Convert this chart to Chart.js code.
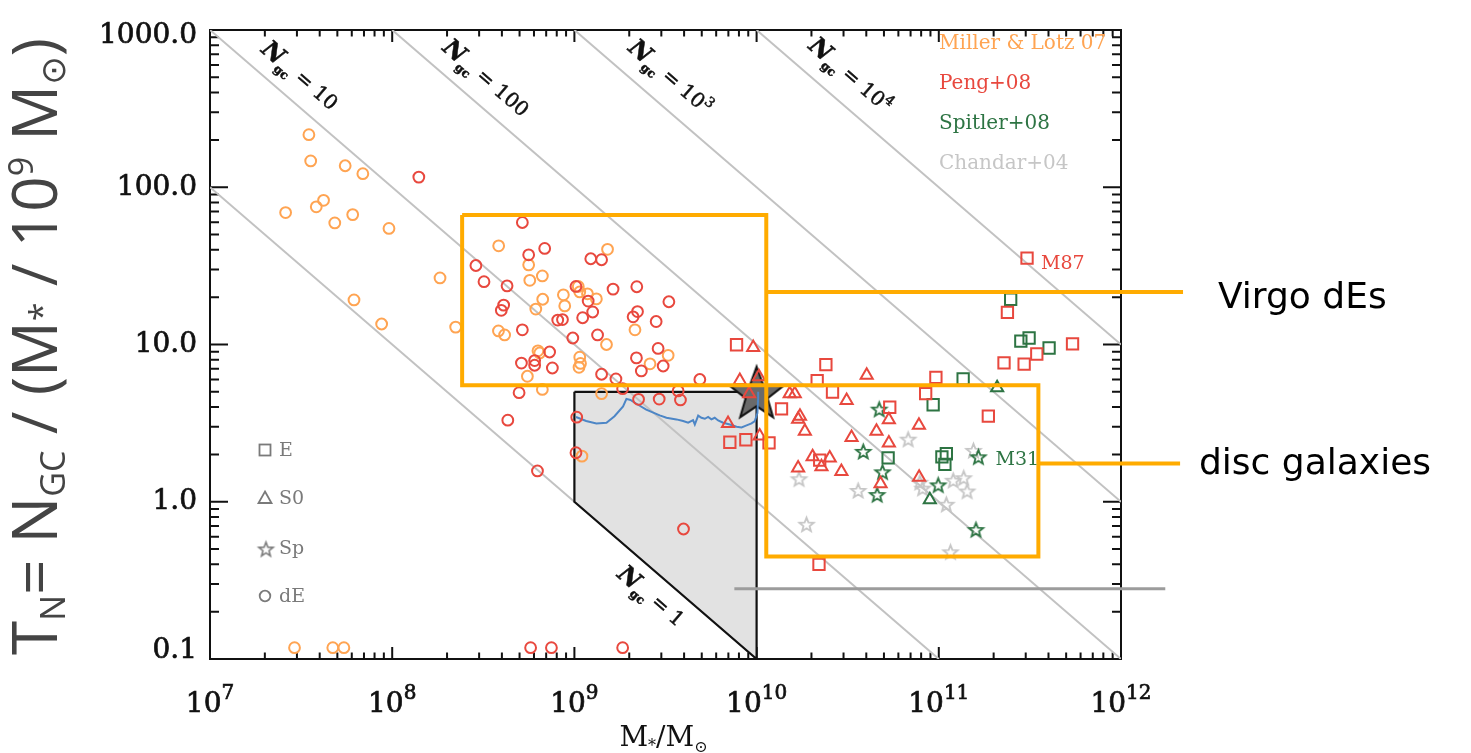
<!DOCTYPE html>
<html>
<head>
<meta charset="utf-8">
<title>Globular cluster specific frequency vs stellar mass</title>
<script src="https://cdn.jsdelivr.net/npm/chart.js@4.4.1/dist/chart.umd.min.js"></script>
<style>
  html, body { margin: 0; padding: 0; background: #fff; }
  canvas { display: block; }
</style>
</head>
<body>
<canvas id="tnChart" width="1471" height="753"></canvas>
<script>
// axis ranges and tick labels
const X_MIN = 1e7, X_MAX = 1e12;
const Y_MIN = 0.1, Y_MAX = 1000;
const X_TICK_VALUES = [1e7, 1e8, 1e9, 1e10, 1e11, 1e12];
const X_TICK_EXPONENTS = ['7', '8', '9', '10', '11', '12'];
const Y_TICK_VALUES = [0.1, 1, 10, 100, 1000];
const Y_TICK_LABELS = ['0.1', '1.0', '10.0', '100.0', '1000.0'];

// Miller & Lotz 07 dwarf ellipticals
const MILLER_DE_MASS = [3.49e7, 3.57e7, 5.52e7, 6.9e7, 2.6e7, 3.83e7, 4.2e7, 4.84e7, 6.07e7, 9.6e7, 1.83e8, 6.17e7, 8.75e7, 2.23e8,
  3.84e8, 1.52e9, 5.61e8, 6.67e8, 5.69e8, 8.7e8, 1.05e9, 1.07e9, 1.18e9, 1.32e9, 6.7e8, 8.85e8, 6.14e8, 3.83e8, 4.14e8, 2.15e9,
  1.5e9, 6.31e8, 6.45e8, 1.07e9, 1.08e9, 1.06e9, 3.27e9, 2.6e9, 5.52e8, 6.67e8, 1.41e9, 1.1e9, 2.91e7, 4.72e7, 5.43e7];
const MILLER_DE_TN = [216, 147, 137, 122, 69, 75.1, 82.6, 59.3, 67, 54.7, 26.5, 19.2, 13.5, 12.9,
  42.4, 40.3, 32.1, 27.3, 25.6, 20.7, 23.4, 21.6, 21.0, 19.5, 19.4, 17.6, 16.8, 12.2, 11.5, 12.4,
  10.0, 9.12, 8.83, 8.30, 7.58, 7.16, 8.54, 7.54, 6.28, 5.18, 4.87, 1.95, 0.118, 0.118, 0.118];

// Peng+08 Virgo galaxies
const PENG_DE_MASS = [1.40e8, 5.18e8, 5.61e8, 6.87e8, 2.88e8, 3.19e8, 4.27e8, 1.23e9, 1.41e9, 4.09e8, 3.97e8, 1.02e9, 1.19e9,
  1.63e9, 2.2e9, 3.3e9, 1.26e9, 1.11e9, 8.6e8, 8.1e8, 2.22e9, 2.1e9, 2.81e9, 5.18e8, 9.8e8, 1.34e9, 7.31e8, 5.12e8, 6.05e8,
  6.05e8, 7.57e8, 2.88e9, 2.19e9, 3.07e9, 2.33e9, 1.41e9, 1.69e9, 4.88e9, 4.97e8, 1.84e9, 2.25e9, 2.92e9, 3.82e9, 3.71e9,
  4.31e8, 1.03e9, 1.02e9, 6.27e8, 3.97e9, 5.75e8, 7.48e8, 1.84e9];
const PENG_DE_TN = [116, 59.7, 37.2, 40.8, 31.8, 25.1, 23.6, 35.1, 34.6, 17.8, 16.5, 23.4, 18.9,
  22.5, 23.3, 18.7, 16.1, 14.8, 14.4, 14.3, 16.2, 15.0, 14.0, 12.4, 11.0, 11.5, 8.96, 7.62, 7.38,
  7.9, 7.09, 9.44, 8.22, 7.30, 6.79, 6.47, 6.04, 5.99, 4.94, 5.24, 4.48, 4.50, 4.44, 5.07,
  3.30, 3.45, 2.05, 1.57, 0.671, 0.118, 0.118, 0.118];
const PENG_E_MASS = [7.76e9, 7.13e9, 8.73e9, 1.17e10, 2.40e10, 2.15e10, 2.61e10, 1.37e10, 9.64e10, 8.47e10, 5.38e10,
  1.87e11, 2.28e11, 2.94e11, 3.45e11, 2.20e10, 2.22e10, 3.05e11, 2.38e11, 5.42e11];
const PENG_E_TN = [9.96, 2.39, 2.48, 2.37, 7.45, 5.90, 4.99, 3.90, 6.18, 4.87, 3.99,
  3.50, 7.65, 7.5, 8.7, 0.40, 1.84, 35.4, 16.0, 10.1];
const PENG_S0_MASS = [9.58e9, 4.02e10, 1.52e10, 1.62e10, 3.12e10, 1.73e10, 1.69e10, 1.84e10, 3.32e10, 4.55e10, 5.32e10,
  7.78e10, 5.32e10, 1.04e10, 1.69e10, 2.03e10, 2.52e10, 2.27e10, 2.92e10, 4.79e10, 7.8e10, 8.09e9, 9.1e9, 1.03e10, 6.97e9];
const PENG_S0_TN = [9.57, 6.37, 4.87, 4.87, 4.40, 3.50, 3.35, 2.81, 2.56, 2.81, 3.32,
  3.06, 2.36, 2.62, 1.64, 1.93, 1.90, 1.67, 1.56, 1.30, 1.43, 5.90, 4.87, 6.24, 3.15];

// Spitler+08
const SPITLER_E_MASS = [1.36e11, 9.31e10, 5.27e10, 1.04e11, 1.10e11, 1.08e11, 2.82e11, 3.13e11, 4.03e11, 2.48e11];
const SPITLER_E_TN = [6.04, 4.14, 1.90, 1.93, 2.02, 1.73, 10.5, 11.0, 9.5, 19.4];
const SPITLER_S0_MASS = [2.09e11, 8.93e10];
const SPITLER_S0_TN = [5.31, 1.03];
const SPITLER_SP_MASS = [4.71e10, 3.85e10, 4.91e10, 4.59e10, 9.93e10, 1.6e11, 1.65e11];
const SPITLER_SP_TN = [3.88, 2.09, 1.55, 1.11, 1.28, 0.665, 1.93];

// Chandar+04 spirals
const CHANDAR_SP_MASS = [6.79e10, 1.71e10, 3.61e10, 1.88e10, 7.87e10, 8.15e10, 1.2e11, 1.37e11, 1.43e11, 1.10e11, 1.55e11, 1.16e11];
const CHANDAR_SP_TN = [2.50, 1.40, 1.18, 0.719, 1.33, 1.22, 1.37, 1.42, 1.17, 0.964, 2.12, 0.48];

// Milky Way and the model track
const MW_MASS = [1e10];
const MW_TN = [5];
const TRACK_MASS = [1.02e9, 1.16e9, 1.32e9, 1.50e9, 1.66e9, 1.85e9, 1.93e9, 2.03e9, 2.19e9, 2.48e9, 2.94e9, 3.20e9,
  3.63e9, 3.95e9, 4.21e9, 4.48e9, 4.58e9, 4.78e9, 4.98e9, 5.20e9, 5.42e9, 5.65e9, 5.89e9, 6.15e9, 6.55e9, 7.13e9,
  7.76e9, 8.27e9, 8.81e9, 9.38e9, 9.78e9, 1.01e10, 1.02e10, 1.02e10];
const TRACK_TN = [3.46, 3.26, 3.15, 3.18, 3.50, 4.04, 4.51, 4.44, 4.20, 3.85, 3.54, 3.42,
  3.34, 3.26, 3.18, 3.30, 3.10, 3.53, 3.42, 3.37, 3.46, 3.34, 3.42, 3.29, 3.18, 3.10,
  3.00, 2.97, 3.06, 3.15, 3.26, 3.67, 4.54, 5.0];

// constant N_gc lines (end points)
const NGC_LINES = [
  { n: '1', mass: [1e7, 1e9], tn: [100, 1] },
  { n: '10', mass: [1e7, 1e11], tn: [1000, 0.1] },
  { n: '100', mass: [1e8, 1e12], tn: [1000, 0.1] },
  { n: '1000', mass: [1e9, 1e12], tn: [1000, 1] },
  { n: '10000', mass: [1e10, 1e12], tn: [1000, 10] }
];
// excluded region
const REGION_TOP_MASS = [1e9, 1e10];
const REGION_TOP_TN = [5, 5];
const REGION_LOW_MASS = [1e9, 1e10];
const REGION_LOW_TN = [1, 0.1];
const REGION_EDGE_MASS = [1e9, 1e10, 1e10, 1e9, 1e9];
const REGION_EDGE_TN = [5, 5, 0.1, 1, 5];

// highlight boxes and leaders
const VIRGO_BOX_MASS = [2.42e8, 1.13e10, 1.13e10, 2.42e8, 2.42e8];
const VIRGO_BOX_TN = [66.6, 66.6, 5.5, 5.5, 66.6];
const VIRGO_LEAD_MASS = [1.13e10, 2.19e12];
const VIRGO_LEAD_TN = [21.6, 21.6];
const DISC_BOX_MASS = [1.13e10, 3.52e11, 3.52e11, 1.13e10, 1.13e10];
const DISC_BOX_TN = [5.5, 5.5, 0.449, 0.449, 5.5];
const DISC_LEAD_MASS = [3.52e11, 2.11e12];
const DISC_LEAD_TN = [1.75, 1.75];
const GREY_LEAD_MASS = [7.55e9, 1.75e12];
const GREY_LEAD_TN = [0.28, 0.28];

// labels on the N_gc lines: anchor mass, N value, shown text
const NGC_LABEL_MASS = [3.08e7, 3.24e8, 3.33e9, 3.24e10, 2.61e9];
const NGC_LABEL_N = [10, 100, 1000, 10000, 1];
const NGC_LABEL_TEXT = ['10', '100', '10', '10', '1'];
const NGC_LABEL_SUP = ['', '', '3', '4', ''];

const SOURCES = ['Miller & Lotz 07', 'Peng+08', 'Spitler+08', 'Chandar+04'];
const MORPH = ['E', 'S0', 'Sp', 'dE'];

const ORANGE = '#ffa452';
const RED = '#e8483e';
const GREEN = '#2d7443';
const LIGHT = '#c6c6c6';
const BOX = '#ffab00';
const SERIF = '"DejaVu Serif", "Liberation Serif", serif';

const pts = (xs, ys) => xs.map((x, i) => ({ x: x, y: ys[i] }));

function starImage(outer, inner, fill, stroke, lw) {
  const size = Math.ceil(2 * outer + 2 * lw + 2);
  const c = document.createElement('canvas');
  c.width = size; c.height = size;
  const g = c.getContext('2d');
  g.translate(size / 2, size / 2 + outer * 0.1);
  g.beginPath();
  for (let i = 0; i < 10; i++) {
    const r = i % 2 === 0 ? outer : inner;
    const a = -Math.PI / 2 + i * Math.PI / 5;
    g.lineTo(r * Math.cos(a), r * Math.sin(a));
  }
  g.closePath();
  if (fill) { g.fillStyle = fill; g.fill(); }
  g.lineWidth = lw;
  g.strokeStyle = stroke;
  g.lineJoin = 'miter';
  g.stroke();
  return c;
}

function markers(xs, ys, style, color, radius, order) {
  return {
    data: pts(xs, ys), showLine: false, pointStyle: style, pointRadius: radius,
    pointBorderColor: color, pointBackgroundColor: 'rgba(0,0,0,0)', pointBorderWidth: 2, order: order
  };
}

function line(xs, ys, color, width, order, extra) {
  return Object.assign({
    data: pts(xs, ys), showLine: true, borderColor: color, borderWidth: width,
    pointRadius: 0, tension: 0, fill: false, order: order
  }, extra || {});
}

const datasets = [];
// shaded region: fill from top edge down to the N_gc = 1 edge
datasets.push(line(REGION_TOP_MASS, REGION_TOP_TN, 'rgba(0,0,0,0)', 0, 100, { fill: '+1', backgroundColor: '#e2e2e2' }));
datasets.push(line(REGION_LOW_MASS, REGION_LOW_TN, 'rgba(0,0,0,0)', 0, 99));
NGC_LINES.forEach(l => datasets.push(line(l.mass, l.tn, '#c2c2c2', 2, 90)));
datasets.push(line(REGION_EDGE_MASS, REGION_EDGE_TN, '#111', 2.2, 80));
datasets.push(markers(MW_MASS, MW_TN, starImage(28, 11.5, '#6a6a6a', '#111', 2), '#111', 28, 70));
datasets.push(line(TRACK_MASS, TRACK_TN, '#4d86c6', 2, 60));
datasets.push(markers(CHANDAR_SP_MASS, CHANDAR_SP_TN, starImage(7.5, 3.2, null, LIGHT, 1.8), LIGHT, 7, 50));
datasets.push(markers(SPITLER_SP_MASS, SPITLER_SP_TN, starImage(7.5, 3.2, null, GREEN, 1.8), GREEN, 7, 45));
datasets.push(markers(SPITLER_E_MASS, SPITLER_E_TN, 'rect', GREEN, 8, 44));
datasets.push(markers(SPITLER_S0_MASS, SPITLER_S0_TN, 'triangle', GREEN, 7, 43));
datasets.push(markers(PENG_E_MASS, PENG_E_TN, 'rect', RED, 8, 40));
datasets.push(markers(PENG_S0_MASS, PENG_S0_TN, 'triangle', RED, 7, 39));
datasets.push(markers(MILLER_DE_MASS, MILLER_DE_TN, 'circle', ORANGE, 5.4, 30));
datasets.push(markers(PENG_DE_MASS, PENG_DE_TN, 'circle', RED, 5.4, 29));
datasets.push(line(VIRGO_BOX_MASS, VIRGO_BOX_TN, BOX, 4, 2, { clip: false, borderJoinStyle: 'miter' }));
datasets.push(line(DISC_BOX_MASS, DISC_BOX_TN, BOX, 4, 2, { clip: false, borderJoinStyle: 'miter' }));
datasets.push(line(VIRGO_LEAD_MASS, VIRGO_LEAD_TN, BOX, 4, 1, { clip: false }));
datasets.push(line(DISC_LEAD_MASS, DISC_LEAD_TN, BOX, 4, 1, { clip: false }));
datasets.push(line(GREY_LEAD_MASS, GREY_LEAD_TN, '#9c9c9c', 3, 1, { clip: false }));

// box with inward minor/major ticks on all four sides
const framePlugin = {
  id: 'frame',
  beforeDatasetsDraw(chart) {
    const { ctx, chartArea: a, scales: { x, y } } = chart;
    ctx.save();
    ctx.strokeStyle = '#111';
    ctx.lineWidth = 2;
    ctx.beginPath();
    for (let e = 7; e < 12; e++) {
      for (let m = 1; m < 10; m++) {
        const px = x.getPixelForValue(m * Math.pow(10, e));
        const len = m === 1 ? 12 : 6.5;
        ctx.moveTo(px, a.bottom); ctx.lineTo(px, a.bottom - len);
        ctx.moveTo(px, a.top); ctx.lineTo(px, a.top + len);
      }
    }
    for (let e = -1; e < 3; e++) {
      for (let m = 1; m < 10; m++) {
        const py = y.getPixelForValue(m * Math.pow(10, e));
        const len = m === 1 ? 18 : 9;
        ctx.moveTo(a.left, py); ctx.lineTo(a.left + len, py);
        ctx.moveTo(a.right, py); ctx.lineTo(a.right - len, py);
      }
    }
    ctx.stroke();
    ctx.strokeRect(a.left, a.top, a.right - a.left, a.bottom - a.top);
    ctx.restore();
  }
};

// draws a run of [text, font, dy] pieces starting at the current origin
function runs(ctx, pieces, align, heavy) {
  let total = 0;
  pieces.forEach(p => { ctx.font = p[1]; total += ctx.measureText(p[0]).width; });
  let cx = align === 'center' ? -total / 2 : 0;
  ctx.textAlign = 'left';
  pieces.forEach(p => {
    ctx.font = p[1];
    ctx.fillText(p[0], cx, p[2] || 0);
    if (heavy) ctx.strokeText(p[0], cx, p[2] || 0);
    cx += ctx.measureText(p[0]).width;
  });
  return total;
}

const textPlugin = {
  id: 'texts',
  afterDraw(chart) {
    const { ctx, chartArea: a, scales: { x, y } } = chart;
    ctx.save();
    ctx.fillStyle = '#111';
    ctx.strokeStyle = '#111';
    ctx.lineWidth = 0.7;

    // y tick labels
    ctx.font = '28px ' + SERIF;
    ctx.textAlign = 'right';
    ctx.textBaseline = 'middle';
    Y_TICK_VALUES.forEach((v, i) => {
      let py = y.getPixelForValue(v);
      if (i === 0) py -= 8;
      if (i === Y_TICK_VALUES.length - 1) py += 6;
      ctx.fillText(Y_TICK_LABELS[i], a.left - 13, py);
      ctx.strokeText(Y_TICK_LABELS[i], a.left - 13, py);
    });

    // x tick labels 10^n
    ctx.textBaseline = 'alphabetic';
    X_TICK_VALUES.forEach((v, i) => {
      ctx.save();
      ctx.translate(x.getPixelForValue(v), 712);
      runs(ctx, [['10', '28px ' + SERIF, 0], [X_TICK_EXPONENTS[i], '20px ' + SERIF, -13]], 'center', true);
      ctx.restore();
    });

    // x axis title
    ctx.save();
    ctx.translate((a.left + a.right) / 2 - 2, 746);
    runs(ctx, [['M', '28px ' + SERIF, 0], ['*', '16px ' + SERIF, 5], ['/M', '28px ' + SERIF, 0], ['\u2299', '16px ' + SERIF, 6]], 'center');
    ctx.restore();

    // y axis title, fitted to the height of the frame
    const base = 54;
    const f = s => s + 'px "Open Sans", "DejaVu Sans", sans-serif';
    const title = s => [
      ['T', f(s), 0], ['N', f(s * 0.55), s * 0.13], ['= N', f(s), 0], ['GC', f(s * 0.55), s * 0.13],
      [' / (M', f(s), 0], ['*', f(s * 0.55), -s * 0.05], [' / 10', f(s), 0], ['9', f(s * 0.55), -s * 0.38],
      [' M', f(s), 0], ['\u2299', f(s * 0.55), s * 0.13], [')', f(s), 0]
    ];
    ctx.save();
    ctx.fillStyle = '#444';
    ctx.translate(57, 655);
    ctx.rotate(-Math.PI / 2);
    let w = 0;
    title(base).forEach(p => { ctx.font = p[1]; w += ctx.measureText(p[0]).width; });
    const s = base * Math.min(1.15, 637 / w);
    runs(ctx, title(s), 'left');
    ctx.restore();

    // labels along the constant N_gc lines
    const ang = Math.atan2(y.getPixelForValue(0.1) - y.getPixelForValue(1), x.getPixelForValue(1e10) - x.getPixelForValue(1e9));
    const lifts = [30, 31, 34, 34, -30];
    NGC_LABEL_MASS.forEach((m, i) => {
      const px = x.getPixelForValue(m);
      const py = y.getPixelForValue(NGC_LABEL_N[i] * 1e9 / m) - lifts[i];
      ctx.save();
      ctx.translate(px, py);
      ctx.rotate(ang);
      ctx.textBaseline = 'middle';
      ctx.fillStyle = '#111';
      ctx.lineWidth = 0.5;
      const pieces = [['N', 'italic bold 24px ' + SERIF, 0], ['gc', 'bold 12px ' + SERIF, 9],
        [' = ' + NGC_LABEL_TEXT[i], '20px ' + SERIF, 0]];
      if (NGC_LABEL_SUP[i]) pieces.push([NGC_LABEL_SUP[i], '14px ' + SERIF, -7]);
      runs(ctx, pieces, 'center', true);
      ctx.restore();
    });

    // source legend
    ctx.textAlign = 'left';
    ctx.textBaseline = 'middle';
    ctx.font = '20px ' + SERIF;
    const srcColors = [ORANGE, RED, GREEN, LIGHT];
    const srcY = [44, 84, 123.5, 164];
    SOURCES.forEach((t, i) => { ctx.fillStyle = srcColors[i]; ctx.fillText(t, 939, srcY[i]); });

    // morphology legend
    const gx = 265, gys = [450, 498, 548, 596];
    ctx.strokeStyle = '#7a7a7a';
    ctx.fillStyle = '#7a7a7a';
    ctx.lineWidth = 1.8;
    ctx.strokeRect(gx - 5.5, gys[0] - 5.5, 11, 11);
    ctx.beginPath();
    ctx.moveTo(gx, gys[1] - 6.5); ctx.lineTo(gx + 6.5, gys[1] + 5); ctx.lineTo(gx - 6.5, gys[1] + 5); ctx.closePath();
    ctx.stroke();
    ctx.drawImage(starImage(7.5, 3.2, null, '#7a7a7a', 1.6), gx - 9.5, gys[2] - 9.5);
    ctx.beginPath(); ctx.arc(gx, gys[3], 5.3, 0, Math.PI * 2); ctx.stroke();
    ctx.font = '19px ' + SERIF;
    MORPH.forEach((t, i) => ctx.fillText(t, 279, gys[i] + 1));

    // named galaxies
    ctx.font = '19px ' + SERIF;
    ctx.fillStyle = RED;
    ctx.fillText('M87', x.getPixelForValue(3.05e11) + 14, y.getPixelForValue(35.4) + 6);
    ctx.fillStyle = GREEN;
    ctx.fillText('M31', x.getPixelForValue(1.65e11) + 17, y.getPixelForValue(1.93) + 3);

    // box captions
    ctx.fillStyle = '#000';
    ctx.font = '36px "DejaVu Sans", "Open Sans", sans-serif';
    ctx.fillText('Virgo dEs', 1218, y.getPixelForValue(21.6) + 7);
    ctx.fillText('disc galaxies', 1199, y.getPixelForValue(1.75) + 1);
    ctx.restore();
  }
};

new Chart(document.getElementById('tnChart'), {
  type: 'scatter',
  data: { datasets: datasets },
  options: {
    responsive: false,
    animation: false,
    layout: { padding: { left: 210, right: 350, top: 13, bottom: 94 } },
    plugins: { legend: { display: false }, tooltip: { enabled: false } },
    scales: {
      x: { type: 'logarithmic', min: X_MIN, max: X_MAX, display: false },
      y: { type: 'logarithmic', min: Y_MIN, max: Y_MAX, display: false }
    }
  },
  plugins: [framePlugin, textPlugin]
});
</script>
</body>
</html>
